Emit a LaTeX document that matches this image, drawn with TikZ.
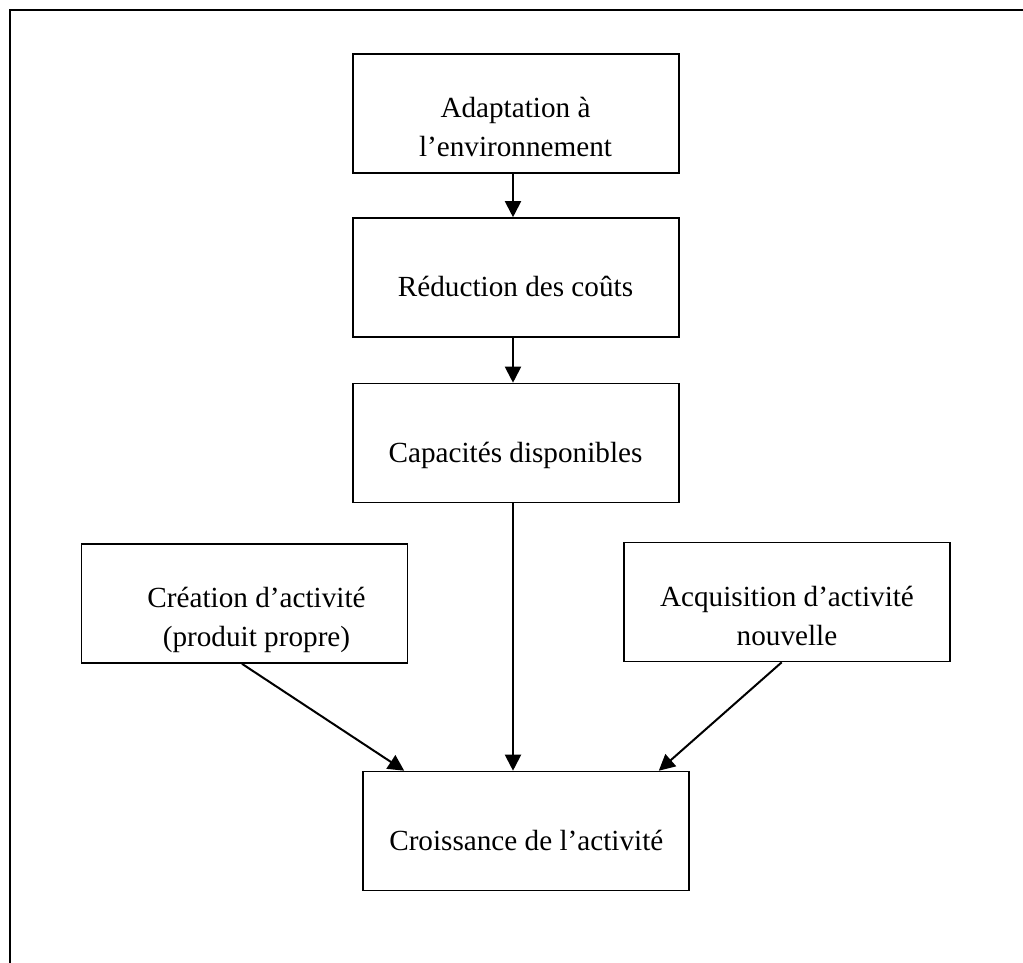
\documentclass[tikz,border=0pt]{standalone}
\usepackage{fontspec}
\setmainfont{Liberation Serif}
\usetikzlibrary{arrows.meta}
\tikzset{
  box/.style={draw, line width=0.8pt, minimum width=163pt, minimum height=59.5pt, inner sep=0pt},
  txt/.style={inner sep=0pt, anchor=base, align=center, font=\fontsize{14.6pt}{19.5pt}\selectfont},
  arr/.style={line width=1pt, -{Triangle[length=8pt, width=8pt]}},
  frame/.style={line width=1pt}
}
\begin{document}
\begin{tikzpicture}[x=0.5pt, y=-0.5pt]
\useasboundingbox (0,0) rectangle (1023,963);
\coordinate (fa) at (10,963);
\coordinate (fb) at (10,10);
\coordinate (fc) at (1023,10);
\draw[frame] (fa) -- (fb) -- (fc);

\node[box] (adapt) at (516,113.5) {};
\node[box] (reduc) at (516,277.5) {};
\node[box] (capa) at (516,443) {};
\node[box] (creat) at (244.5,603.5) {};
\node[box] (acqu) at (787,602) {};
\node[box] (crois) at (526,831) {};

\node[txt] (adaptT) at (515.5,156.7) {Adaptation à\\l’environnement};
\node[txt] (reducT) at (515.5,296.7) {Réduction des coûts};
\node[txt] (capaT) at (515.5,462.3) {Capacités disponibles};
\node[txt] (creatT) at (256.5,646.7) {Création d’activité\\(produit propre)};
\node[txt] (acquT) at (787,645.3) {Acquisition d’activité\\nouvelle};
\node[txt] (croisT) at (526.3,850) {Croissance de l’activité};

\draw[arr] ([xshift=-1.5pt]adapt.south) -- ([xshift=-1.5pt]reduc.north);
\draw[arr] ([xshift=-1.5pt]reduc.south) -- ([xshift=-1.5pt]capa.north);
\draw[arr] ([xshift=-1.5pt]capa.south) -- ([xshift=-1.5pt]capa.south |- crois.north);
\draw[arr] ([xshift=-1.25pt]creat.south) -- ([xshift=21pt]crois.north west);
\draw[arr] ([xshift=-2.65pt]acqu.south) -- ([xshift=-15.5pt]crois.north east);
\end{tikzpicture}
\end{document}
